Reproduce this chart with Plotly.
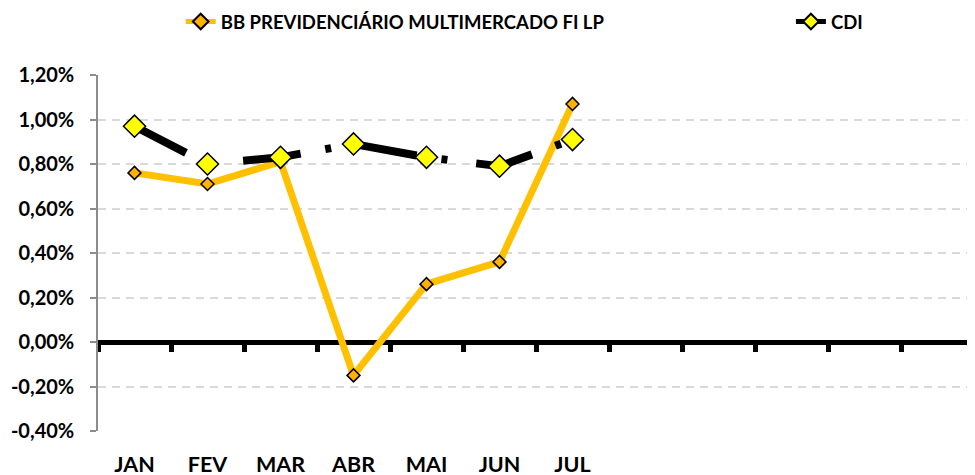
import plotly.graph_objects as go

months = ["JAN", "FEV", "MAR", "ABR", "MAI", "JUN", "JUL"]
# remaining (unlabelled) month slots on the category axis
blank_slots = [" ", "  ", "   ", "    ", "     "]
categories = months + blank_slots

fund_name = "BB PREVIDENCIÁRIO MULTIMERCADO FI LP"
fund_values = [0.76, 0.71, 0.81, -0.15, 0.26, 0.36, 1.07]

cdi_name = "CDI"
cdi_values = [0.97, 0.80, 0.83, 0.89, 0.83, 0.79, 0.91]

y_ticks = [-0.4, -0.2, 0.0, 0.2, 0.4, 0.6, 0.8, 1.0, 1.2]
y_tick_labels = [f"{v:.2f}%".replace(".", ",") for v in y_ticks]

FONT = "Lato"

fig = go.Figure()

fig.add_trace(go.Scatter(
    x=months, y=fund_values, name=fund_name, mode="lines+markers",
    line=dict(color="#FFC000", width=7),
    marker=dict(symbol="diamond", size=10, color="#FFB300",
                line=dict(color="#000000", width=1.5)),
    cliponaxis=False, legend="legend",
))

fig.add_trace(go.Scatter(
    x=months, y=cdi_values, name=cdi_name, mode="lines+markers",
    line=dict(color="#000000", width=8, dash="58px,25px,6px,29px"),
    marker=dict(symbol="diamond", size=17, color="#FFFF00",
                line=dict(color="#000000", width=1.5)),
    cliponaxis=False, legend="legend2",
))

# dummy trace to carry the zero-crossing axis
fig.add_trace(go.Scatter(
    x=categories, y=[None] * len(categories), xaxis="x2", mode="markers",
    showlegend=False, hoverinfo="skip",
))

legend_font = dict(family=FONT, size=18.5, color="#000000", weight="bold")

fig.update_layout(
    width=967, height=467,
    margin=dict(l=90, r=1, t=67, b=44, autoexpand=False),
    paper_bgcolor="white", plot_bgcolor="white",
    separators=",.",
    font=dict(family=FONT, size=19, color="#000000", weight="bold"),
    showlegend=True,
    legend=dict(
        orientation="h", x=0.0944, xanchor="left", y=1.149, yanchor="middle",
        font=legend_font, bgcolor="rgba(0,0,0,0)", itemsizing="constant",
    ),
    legend2=dict(
        orientation="h", x=0.791, xanchor="left", y=1.149, yanchor="middle",
        font=legend_font, bgcolor="rgba(0,0,0,0)", itemsizing="constant",
    ),
    xaxis=dict(
        type="category", categoryorder="array", categoryarray=categories,
        range=[-0.5, 11.5], showline=False, showgrid=False, zeroline=False,
        ticks="", ticklabelstandoff=18, automargin=False,
        tickfont=dict(family=FONT, size=21.5, color="#000000", weight="bold"),
    ),
    xaxis2=dict(
        type="category", categoryorder="array", categoryarray=categories,
        range=[-0.5, 11.5], overlaying="x", anchor="free", position=0.25,
        side="bottom", showline=True, linecolor="#000000", linewidth=5,
        ticks="outside", ticklen=7, tickwidth=5, tickcolor="#000000",
        tickson="boundaries", showticklabels=False, showgrid=False,
        zeroline=False, layer="below traces", automargin=False,
    ),
    yaxis=dict(
        range=[-0.4, 1.2], tickvals=y_ticks, ticktext=y_tick_labels,
        showline=True, linecolor="#8C8C8C", linewidth=1.5,
        ticks="outside", ticklen=6, tickcolor="#8C8C8C", tickwidth=1.5,
        ticklabelstandoff=12, automargin=False,
        showgrid=True, gridcolor="#D9D9D9", gridwidth=2, griddash="8px,6px",
        zeroline=False,
        tickfont=dict(family=FONT, size=20, color="#000000", weight="bold"),
    ),
)

fig.write_html("out.html")
